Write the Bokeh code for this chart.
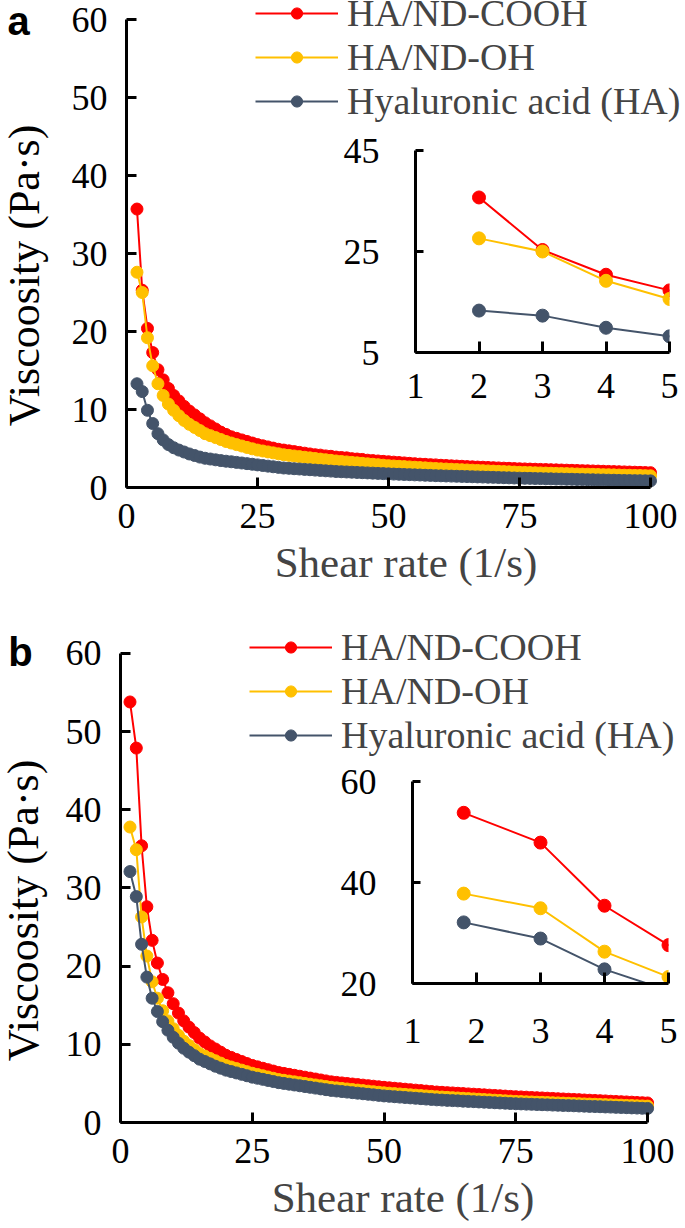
import math
from bokeh.plotting import figure
from bokeh.models import FixedTicker, Legend, LegendItem, Range1d
from bokeh.core.properties import value
from bokeh.embed import file_html
from bokeh.resources import INLINE

# ---------------- data ----------------
series_names = ["HA/ND-COOH", "HA/ND-OH", "Hyaluronic acid (HA)"]
series_colors = ["#FF0000", "#FFC000", "#44546A"]
panel_letters = ["a", "b"]

shear_rate_a = [2, 3, 4, 5, 6, 7, 8, 9, 10, 11, 12, 13, 14, 15, 16, 17, 18, 19, 20, 21,
                22, 23, 24, 25, 26, 27, 28, 29, 30, 31, 32, 33, 34, 35, 36, 37, 38, 39, 40, 41,
                42, 43, 44, 45, 46, 47, 48, 49, 50, 51, 52, 53, 54, 55, 56, 57, 58, 59, 60, 61,
                62, 63, 64, 65, 66, 67, 68, 69, 70, 71, 72, 73, 74, 75, 76, 77, 78, 79, 80, 81,
                82, 83, 84, 85, 86, 87, 88, 89, 90, 91, 92, 93, 94, 95, 96, 97, 98, 99, 100]
shear_rate_b = [1.8, 3, 4, 5, 6, 7, 8, 9, 10, 11, 12, 13, 14, 15, 16, 17, 18, 19, 20, 21,
                22, 23, 24, 25, 26, 27, 28, 29, 30, 31, 32, 33, 34, 35, 36, 37, 38, 39, 40, 41,
                42, 43, 44, 45, 46, 47, 48, 49, 50, 51, 52, 53, 54, 55, 56, 57, 58, 59, 60, 61,
                62, 63, 64, 65, 66, 67, 68, 69, 70, 71, 72, 73, 74, 75, 76, 77, 78, 79, 80, 81,
                82, 83, 84, 85, 86, 87, 88, 89, 90, 91, 92, 93, 94, 95, 96, 97, 98, 99, 100]

cooh_a = [35.7, 25.3, 20.4, 17.3, 15.1, 13.8, 12.7, 11.8, 11.1, 10.4,
          9.8, 9.3, 8.8, 8.3, 7.9, 7.5, 7.1, 6.8, 6.5, 6.3,
          6.1, 5.9, 5.7, 5.5, 5.35, 5.2, 5.05, 4.9, 4.8, 4.7,
          4.6, 4.5, 4.4, 4.3, 4.2, 4.15, 4.05, 4.0, 3.9, 3.85,
          3.8, 3.7, 3.65, 3.6, 3.5, 3.45, 3.4, 3.35, 3.3, 3.25,
          3.2, 3.15, 3.1, 3.05, 3.0, 2.97, 2.93, 2.9, 2.85, 2.82,
          2.78, 2.75, 2.72, 2.68, 2.65, 2.62, 2.6, 2.57, 2.54, 2.51,
          2.48, 2.46, 2.43, 2.4, 2.38, 2.36, 2.34, 2.32, 2.3, 2.28,
          2.26, 2.24, 2.22, 2.2, 2.18, 2.16, 2.14, 2.12, 2.1, 2.08,
          2.06, 2.04, 2.02, 2.0, 1.98, 1.96, 1.94, 1.92, 1.9]
oh_a = [27.6, 25.0, 19.2, 15.6, 13.3, 11.8, 10.7, 9.9, 9.2, 8.6,
        8.1, 7.7, 7.3, 6.9, 6.65, 6.4, 6.15, 5.9, 5.7, 5.5,
        5.32, 5.14, 4.96, 4.8, 4.68, 4.56, 4.44, 4.32, 4.2, 4.12,
        4.04, 3.96, 3.88, 3.8, 3.72, 3.64, 3.56, 3.48, 3.4, 3.34,
        3.28, 3.22, 3.16, 3.1, 3.04, 2.98, 2.92, 2.86, 2.8, 2.76,
        2.72, 2.68, 2.64, 2.6, 2.56, 2.52, 2.48, 2.44, 2.4, 2.37,
        2.34, 2.31, 2.28, 2.25, 2.22, 2.19, 2.16, 2.13, 2.1, 2.07,
        2.04, 2.01, 1.98, 1.95, 1.93, 1.91, 1.89, 1.87, 1.85, 1.83,
        1.81, 1.8, 1.78, 1.76, 1.74, 1.72, 1.71, 1.69, 1.67, 1.65,
        1.64, 1.62, 1.6, 1.58, 1.57, 1.55, 1.54, 1.52, 1.5]
ha_a = [13.3, 12.3, 9.9, 8.2, 6.9, 6.1, 5.5, 5.1, 4.8, 4.55,
        4.3, 4.1, 3.9, 3.75, 3.65, 3.55, 3.45, 3.37, 3.3, 3.22,
        3.14, 3.06, 2.98, 2.9, 2.82, 2.74, 2.66, 2.58, 2.5, 2.46,
        2.41, 2.37, 2.32, 2.28, 2.23, 2.19, 2.14, 2.1, 2.05, 2.02,
        1.99, 1.96, 1.93, 1.9, 1.87, 1.84, 1.81, 1.78, 1.75, 1.72,
        1.7, 1.67, 1.65, 1.62, 1.6, 1.57, 1.55, 1.52, 1.5, 1.48,
        1.46, 1.44, 1.42, 1.4, 1.38, 1.36, 1.34, 1.32, 1.3, 1.28,
        1.26, 1.24, 1.22, 1.2, 1.18, 1.17, 1.15, 1.14, 1.12, 1.11,
        1.09, 1.08, 1.06, 1.05, 1.03, 1.02, 1.0, 0.99, 0.97, 0.96,
        0.94, 0.93, 0.91, 0.9, 0.89, 0.88, 0.87, 0.86, 0.85]

cooh_b = [53.8, 47.9, 35.4, 27.6, 23.3, 20.4, 18.3, 16.6, 15.2, 14.0,
          13.0, 12.2, 11.5, 10.8, 10.3, 9.8, 9.4, 9.0, 8.6, 8.33,
          8.06, 7.8, 7.54, 7.3, 7.12, 6.94, 6.76, 6.58, 6.4, 6.28,
          6.16, 6.04, 5.92, 5.8, 5.68, 5.56, 5.44, 5.32, 5.2, 5.13,
          5.06, 4.99, 4.92, 4.85, 4.78, 4.71, 4.64, 4.57, 4.5, 4.44,
          4.38, 4.32, 4.26, 4.2, 4.14, 4.08, 4.02, 3.96, 3.9, 3.86,
          3.82, 3.78, 3.74, 3.7, 3.66, 3.62, 3.58, 3.54, 3.5, 3.46,
          3.42, 3.38, 3.34, 3.3, 3.27, 3.24, 3.2, 3.17, 3.14, 3.11,
          3.08, 3.04, 3.01, 2.98, 2.95, 2.92, 2.88, 2.85, 2.82, 2.79,
          2.76, 2.72, 2.69, 2.66, 2.63, 2.6, 2.56, 2.53, 2.5]
oh_b = [37.8, 34.9, 26.3, 21.3, 18.0, 15.9, 14.3, 13.0, 12.0, 11.15,
        10.4, 9.85, 9.3, 8.8, 8.5, 8.2, 7.9, 7.6, 7.3, 7.1,
        6.9, 6.7, 6.5, 6.3, 6.14, 5.98, 5.82, 5.66, 5.5, 5.4,
        5.3, 5.2, 5.1, 5.0, 4.9, 4.8, 4.7, 4.6, 4.5, 4.43,
        4.36, 4.29, 4.22, 4.15, 4.08, 4.01, 3.94, 3.87, 3.8, 3.75,
        3.7, 3.65, 3.6, 3.55, 3.5, 3.45, 3.4, 3.35, 3.3, 3.26,
        3.22, 3.18, 3.14, 3.1, 3.06, 3.02, 2.98, 2.94, 2.9, 2.86,
        2.82, 2.78, 2.74, 2.7, 2.68, 2.65, 2.63, 2.6, 2.58, 2.56,
        2.53, 2.51, 2.48, 2.46, 2.43, 2.41, 2.38, 2.36, 2.34, 2.31,
        2.29, 2.26, 2.24, 2.22, 2.19, 2.17, 2.14, 2.12, 2.1]
ha_b = [32.1, 28.9, 22.8, 18.6, 15.9, 14.2, 12.9, 11.8, 10.9, 10.15,
        9.5, 9.0, 8.55, 8.1, 7.8, 7.5, 7.2, 6.95, 6.7, 6.52,
        6.34, 6.16, 5.98, 5.8, 5.66, 5.52, 5.38, 5.24, 5.1, 5.0,
        4.9, 4.8, 4.7, 4.6, 4.5, 4.4, 4.3, 4.2, 4.1, 4.03,
        3.96, 3.89, 3.82, 3.75, 3.68, 3.61, 3.54, 3.47, 3.4, 3.35,
        3.3, 3.25, 3.2, 3.15, 3.1, 3.05, 3.0, 2.95, 2.9, 2.87,
        2.83, 2.8, 2.77, 2.73, 2.7, 2.67, 2.63, 2.6, 2.57, 2.53,
        2.5, 2.47, 2.43, 2.4, 2.38, 2.35, 2.33, 2.3, 2.28, 2.26,
        2.23, 2.21, 2.18, 2.16, 2.14, 2.11, 2.09, 2.06, 2.04, 2.02,
        1.99, 1.97, 1.94, 1.92, 1.9, 1.87, 1.85, 1.82, 1.8]

main_x_ticks = [0, 25, 50, 75, 100]
main_y_ticks = [0, 10, 20, 30, 40, 50, 60]
inset_x_ticks = [1, 2, 3, 4, 5]
inset_a_y_ticks = [5, 25, 45]
inset_b_y_ticks = [20, 40, 60]

x_title = "Shear rate (1/s)"
y_title = "Viscoosity (Pa\u00b7s)"

SERIF = "Liberation Serif"


def place(p, left, top):
    p.styles = {"position": "absolute", "left": f"{left}px", "top": f"{top}px"}


def bare(p):
    p.outline_line_color = None
    p.grid.visible = False
    p.background_fill_alpha = 0
    p.border_fill_alpha = 0


def style_axis(ax, ticks, tick_in, standoff, size="36px"):
    ax.ticker = FixedTicker(ticks=ticks)
    ax.minor_tick_line_color = None
    ax.major_tick_in = tick_in
    ax.major_tick_out = 0
    ax.axis_line_width = 3
    ax.major_tick_line_width = 3
    ax.axis_line_color = "black"
    ax.major_tick_line_color = "black"
    ax.major_label_text_font = SERIF
    ax.major_label_text_font_size = size
    ax.major_label_text_color = "black"
    ax.major_label_standoff = standoff


def main_panel(xs, ys_list, height, x_end, y_end, border_left, border_bottom, legend_loc):
    p = figure(width=685, height=height, output_backend="svg", toolbar_location=None,
               x_range=Range1d(0, x_end), y_range=Range1d(0, y_end),
               min_border_left=border_left, min_border_right=0, min_border_top=0,
               min_border_bottom=border_bottom)
    bare(p)
    style_axis(p.xaxis[0], main_x_ticks, 10, 16)
    style_axis(p.yaxis[0], main_y_ticks, 10, 19)
    p.xaxis[0].bounds = (0, 100)
    p.yaxis[0].bounds = (0, 60)
    p.xaxis[0].axis_label = x_title
    p.xaxis[0].axis_label_text_font = SERIF
    p.xaxis[0].axis_label_text_font_size = "43px"
    p.xaxis[0].axis_label_text_font_style = "normal"
    p.xaxis[0].axis_label_standoff = 8
    items = []
    for ys, name, col in zip(ys_list, series_names, series_colors):
        r1 = p.line(xs, ys, line_width=2, color=col)
        r2 = p.scatter(xs, ys, size=12, color=col)
        items.append(LegendItem(label=name, renderers=[r1, r2]))
    leg = Legend(items=items, location=legend_loc, glyph_width=83, glyph_height=28,
                 label_height=42, label_standoff=9, spacing=0, padding=0, margin=0,
                 background_fill_alpha=0, border_line_alpha=0,
                 label_text_font=SERIF, label_text_font_size="38px")
    p.add_layout(leg, "center")
    return p


def inset_panel(xs, ys_list, y_lo, y_hi, y_ticks, width, height, bl, br, bt, bb,
                x_standoff):
    p = figure(width=width, height=height, output_backend="svg", toolbar_location=None,
               x_range=Range1d(1, 5), y_range=Range1d(y_lo, y_hi),
               min_border_left=bl, min_border_right=br, min_border_top=bt,
               min_border_bottom=bb)
    bare(p)
    style_axis(p.xaxis[0], inset_x_ticks, 11, x_standoff)
    style_axis(p.yaxis[0], y_ticks, 8, 36)
    for ys, col in zip(ys_list, series_colors):
        p.line(xs, ys, line_width=2, color=col)
        p.scatter(xs, ys, size=13, color=col)
    return p


def text_panel(txt, width, height, font, size, style, angle):
    # a small transparent canvas that only holds one text (panel letter / y title)
    p = figure(width=width, height=height, output_backend="svg", toolbar_location=None,
               x_range=Range1d(0, width), y_range=Range1d(0, height),
               x_axis_type=None, y_axis_type=None,
               min_border_left=0, min_border_right=0, min_border_top=0, min_border_bottom=0)
    bare(p)
    p.text(x=[width / 2], y=[height / 2], text=[txt], text_font=value(font),
           text_font_size=size, text_font_style=style, angle=angle,
           text_baseline="middle", text_align="center", text_color="black")
    return p


pa = main_panel(shear_rate_a, [cooh_a, oh_a, ha_a], 600, 106.68, 62.44, 126, 113, (129, 364))
pb = main_panel(shear_rate_b, [cooh_b, oh_b, ha_b], 628, 107.2, 66.78, 120, 106, (129, 365))
place(pa, 0, 0)
place(pb, 0, 600)

ia = inset_panel(shear_rate_a, [cooh_a, oh_a, ha_a], 5, 45, inset_a_y_ticks,
                 350, 275, 80, 16, 20, 53, 21)
ib = inset_panel(shear_rate_b, [cooh_b, oh_b, ha_b], 20, 60, inset_b_y_ticks,
                 351, 290, 78, 17, 21, 67, 35)
place(ia, 335, 130)
place(ib, 334, 760)

ya = text_panel(y_title, 60, 340, SERIF, "44px", "normal", math.pi / 2)
yb = text_panel(y_title, 60, 340, SERIF, "44px", "normal", math.pi / 2)
place(ya, -6, 105)
place(yb, -7, 740)

la = text_panel(panel_letters[0], 60, 80, "Liberation Sans", "40px", "bold", 0)
lb = text_panel(panel_letters[1], 60, 80, "Liberation Sans", "40px", "bold", 0)
place(la, -12, -20)
place(lb, -10, 611)

open("out.html", "w").write(file_html([pa, pb, ia, ib, ya, yb, la, lb], INLINE))
